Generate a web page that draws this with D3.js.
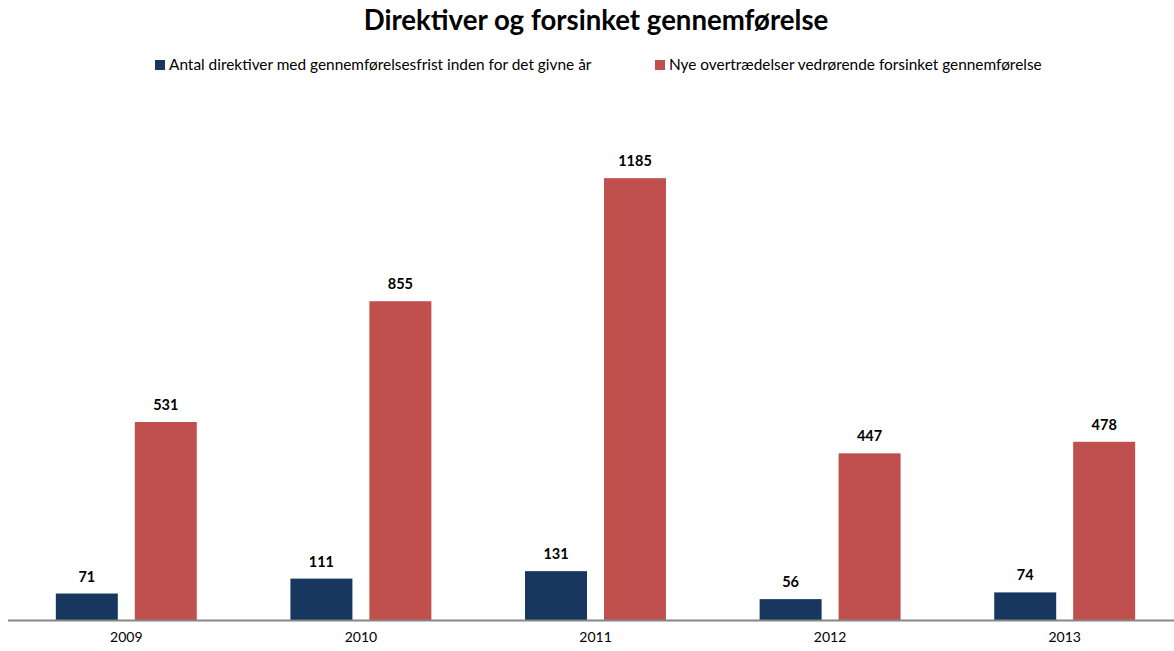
<!DOCTYPE html>
<meta charset="utf-8">
<style>
body { margin: 0; background: #fff; }
svg { display: block; }
text { font-family: Lato, "Open Sans", sans-serif; fill: #000; }
</style>
<body>
<svg id="chart" width="1174" height="651"></svg>
<script src="https://cdn.jsdelivr.net/npm/d3@7/dist/d3.min.js"></script>
<script>

// data
var years = ["2009", "2010", "2011", "2012", "2013"];
var seriesNames = [
  "Antal direktiver med gennemførelsesfrist inden for det givne år",
  "Nye overtrædelser vedrørende forsinket gennemførelse"
];
var direktiver = [71, 111, 131, 56, 74];
var overtraedelser = [531, 855, 1185, 447, 478];
var colors = ["#17375e", "#c0504d"];

var svg = d3.select("#chart");
var baseY = 620;

var x = d3.scaleBand().domain(years).range([9, 1182]);
var x1 = d3.scaleBand().domain([0, 1]).range([0, x.bandwidth()])
    .paddingInner(0.215).paddingOuter(0.593);
var y = d3.scaleLinear().domain([0, 1400]).range([baseY, 98]);

var rows = years.map(function(yr, i) {
  return { year: yr, vals: [direktiver[i], overtraedelser[i]] };
});

// title
svg.append("text")
    .attr("x", 596).attr("y", 30)
    .attr("text-anchor", "middle")
    .style("font-size", "27.6px").style("font-weight", "bold")
    .text("Direktiver og forsinket gennemførelse");

// legend
var legX = [155, 655];
var leg = svg.selectAll(".leg").data(seriesNames).enter().append("g")
    .attr("class", "leg")
    .attr("transform", function(d, i) { return "translate(" + legX[i] + ",60)"; });
leg.append("rect").attr("width", 10).attr("height", 10)
    .attr("fill", function(d, i) { return colors[i]; });
leg.append("text").attr("x", 14).attr("y", 9.5)
    .style("font-size", "15.4px")
    .text(function(d) { return d; });

// bars
var g = svg.selectAll(".yr").data(rows).enter().append("g")
    .attr("class", "yr")
    .attr("transform", function(d) { return "translate(" + x(d.year) + ",0)"; });

g.selectAll("rect").data(function(d) { return d.vals; }).enter().append("rect")
    .attr("x", function(d, i) { return x1(i); })
    .attr("width", x1.bandwidth())
    .attr("y", function(d) { return y(d); })
    .attr("height", function(d) { return baseY - y(d); })
    .attr("fill", function(d, i) { return colors[i]; });

g.selectAll(".val").data(function(d) { return d.vals; }).enter().append("text")
    .attr("class", "val")
    .attr("x", function(d, i) { return x1(i) + x1.bandwidth() / 2; })
    .attr("y", function(d) { return y(d) - 12; })
    .attr("text-anchor", "middle")
    .style("font-size", "14.5px").style("font-weight", "bold")
    .text(function(d) { return d; });

// x axis
var xAxis = d3.axisBottom(x).tickSize(0).tickPadding(12);
var ax = svg.append("g").attr("transform", "translate(0," + baseY + ")").call(xAxis);
ax.select(".domain").attr("stroke", "#868686").attr("stroke-width", 2)
    .attr("d", "M8,0.5H1174");
ax.selectAll("text").style("font-size", "14px").style("font-family", "Lato, sans-serif").attr("fill", "#000");

</script>
</body>
